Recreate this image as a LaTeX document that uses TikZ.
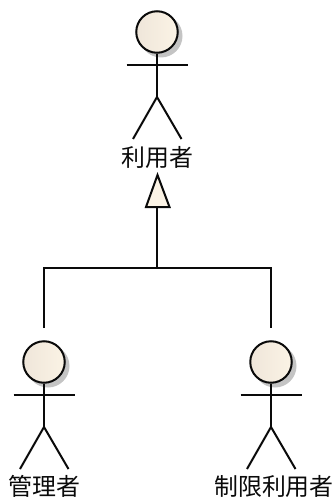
\documentclass[tikz,border=0pt]{standalone}
\usepackage{fontspec}
\newfontfamily\cjk{Noto Sans CJK JP}
\definecolor{inkc}{HTML}{0A0A0A}
\definecolor{headl}{HTML}{EFE6DA}
\definecolor{headr}{HTML}{FBF3E5}
\definecolor{shadowc}{HTML}{C4C4C4}
\tikzset{
  x=1bp,y=-1bp,
  limb/.style={draw=inkc,line width=2bp},
  head/.style={circle,inner sep=0pt,minimum size=41.5bp,draw=inkc,line width=2bp,left color=headl,right color=headr},
  headshadow/.style={circle,inner sep=0pt,minimum size=43bp,fill=shadowc},
  actorlabel/.style={inner sep=0pt,text=inkc,font=\cjk\fontsize{24}{27}\selectfont},
  pics/actor/.style={code={
    \node[headshadow] at (4,4) {};
    \node[head] (-head) at (0,0) {};
    \coordinate (-shl) at (-30.5,33);
    \coordinate (-shr) at (30.5,33);
    \coordinate (-hip) at (0,65);
    \coordinate (-fl) at (-24,107);
    \coordinate (-fr) at (24.5,107);
    \draw[limb] (-head.south) -- (-hip);
    \draw[limb] (-shl) -- (-shr);
    \draw[limb,line join=miter] (-fl) -- (-hip) -- (-fr);
  }}
}
\begin{document}
\begin{tikzpicture}
\useasboundingbox (0,0) rectangle (335,498);
\pic (top) at (157,32) {actor};
\pic (adm) at (44,362) {actor};
\pic (lim) at (271,362) {actor};
\node[actorlabel] (toplabel) at (157.5,157) {利用者};
\node[actorlabel] (admlabel) at (44.5,486) {管理者};
\node[actorlabel] (limlabel) at (274,486) {制限利用者};
\coordinate (apex) at (157.5,175);
\coordinate (bl) at (146,207);
\coordinate (br) at (169.5,207);
\coordinate (base) at (157,207);
\coordinate (join) at (157,268);
\coordinate (corl) at (44,268);
\coordinate (corr) at (271,268);
\coordinate (endl) at (44,328);
\coordinate (endr) at (271,328);
\draw[limb,fill=headr,line join=miter] (apex) -- (br) -- (bl) -- cycle;
\draw[limb] (base) -- (join);
\draw[limb] (endl) -- (corl) -- (corr) -- (endr);
\end{tikzpicture}
\end{document}
